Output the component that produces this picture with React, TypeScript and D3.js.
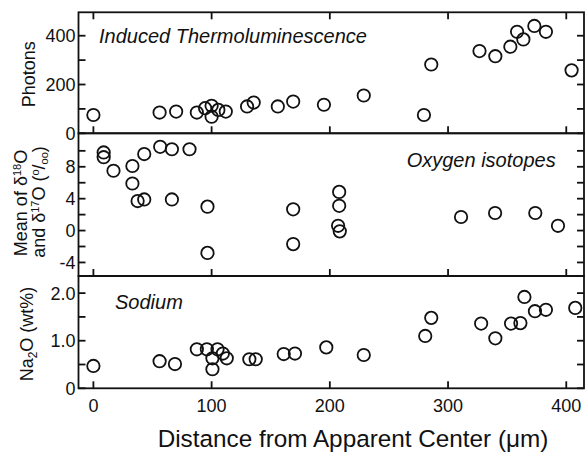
import React from 'react';
import * as d3 from 'd3';

// ---------- data ----------
const xTickValues = [0, 100, 200, 300, 400];

const tlDist = [0, 56, 70, 87.5, 94.5, 100, 100, 105.7, 112, 130, 135.6, 156, 169, 195, 228.7, 279.6, 285.8, 326.6, 340, 352.7, 358.4, 363.7, 373, 382.8, 404.5];
const tlPhotons = [75, 85, 89, 85, 103, 113, 68, 96, 89, 110, 126, 110, 130, 117, 155, 75, 282, 337, 316, 355, 416, 385, 440, 416, 258];
const tlTicks = [0, 100, 200, 300, 400];
const tlLabels = [0, 200, 400];

const oxDist = [8.7, 8.7, 17, 33, 33, 37.4, 43, 43, 56.5, 66.4, 81.3, 66.4, 96.5, 96.5, 169, 169, 207.9, 207.9, 207, 208.4, 311, 339.8, 373.8, 393];
const oxMean = [9.8, 9.2, 7.5, 8.1, 5.9, 3.7, 3.9, 9.6, 10.5, 10.2, 10.2, 3.9, 3.0, -2.8, 2.66, -1.7, 4.85, 3.1, 0.6, -0.1, 1.7, 2.2, 2.2, 0.6];
const oxTicks = [-4, -2, 0, 2, 4, 6, 8, 10];
const oxLabels = [-4, 0, 4, 8];

const naDist = [0, 56, 69, 87.5, 96, 105, 100.7, 100.7, 109.5, 112.8, 131.9, 137.3, 161, 170.5, 197, 228.7, 280.7, 285.8, 328, 340, 353.3, 361.2, 364.6, 373.5, 382.8, 407.6];
const naWt = [0.47, 0.57, 0.51, 0.82, 0.82, 0.82, 0.63, 0.40, 0.73, 0.63, 0.61, 0.61, 0.72, 0.73, 0.86, 0.70, 1.10, 1.48, 1.36, 1.05, 1.36, 1.37, 1.92, 1.62, 1.65, 1.69];
const naTicks = [0, 0.5, 1.0, 1.5, 2.0];
const naLabels = ['0', '1.0', '2.0'];
const naLabelVals = [0, 1.0, 2.0];

// ---------- layout ----------
const W = 586, H = 452;
const L = 78.5, R = 584;
const FONT = "Arial, 'Liberation Sans', Helvetica, sans-serif";
const SW = 1.8;
const TICK = 7;

const x = d3.scaleLinear().domain([-12.6, 415]).range([L, R]);
const yTop = d3.scaleLinear().domain([0, 496]).range([133.3, 12.3]);
const yMid = d3.scaleLinear().domain([-5.7, 12.2]).range([276, 133.3]);
const yBot = d3.scaleLinear().domain([0, 2.36]).range([388.3, 276]);

type Panel = {
  y: d3.ScaleLinear<number, number>;
  ticks: number[];
  labels: { v: number; t: string }[];
  xs: number[];
  ys: number[];
  topTicks: boolean;
};

const panels: Panel[] = [
  { y: yTop, ticks: tlTicks, labels: tlLabels.map(v => ({ v, t: String(v) })), xs: tlDist, ys: tlPhotons, topTicks: true },
  { y: yMid, ticks: oxTicks, labels: oxLabels.map(v => ({ v, t: String(v) })), xs: oxDist, ys: oxMean, topTicks: false },
  { y: yBot, ticks: naTicks, labels: naLabelVals.map((v, i) => ({ v, t: naLabels[i] })), xs: naDist, ys: naWt, topTicks: false },
];

function PanelG({ p }: { p: Panel }) {
  const [y0, y1] = p.y.range(); // bottom, top
  return (
    <g>
      {p.xs.map((d, i) => (
        <circle key={i} cx={x(d)} cy={p.y(p.ys[i])} r={6.2} fill="none" stroke="#111" strokeWidth={SW} />
      ))}
      {p.ticks.map(v => (
        <g key={v}>
          <line x1={L} x2={L + TICK} y1={p.y(v)} y2={p.y(v)} stroke="#111" strokeWidth={SW} />
          <line x1={R - TICK} x2={R} y1={p.y(v)} y2={p.y(v)} stroke="#111" strokeWidth={SW} />
        </g>
      ))}
      {xTickValues.map(v => (
        <line key={'b' + v} x1={x(v)} x2={x(v)} y1={y0} y2={y0 - TICK} stroke="#111" strokeWidth={SW} />
      ))}
      {p.topTicks && xTickValues.map(v => (
        <line key={'t' + v} x1={x(v)} x2={x(v)} y1={y1} y2={y1 + TICK} stroke="#111" strokeWidth={SW} />
      ))}
      {p.labels.map(l => (
        <text key={l.t} x={L - 3} y={p.y(l.v)} dy="0.36em" textAnchor="end" fontSize={18} fontFamily={FONT} fill="#111">{l.t}</text>
      ))}
      <rect x={L} y={y1} width={R - L} height={y0 - y1} fill="none" stroke="#111" strokeWidth={SW} />
    </g>
  );
}

export default function App() {
  return (
    <svg width={W} height={H} style={{ position: 'absolute', left: 0, top: 0, background: '#fff' }} fontFamily={FONT}>
      <rect width={W} height={H} fill="#fff" />
      {panels.map((p, i) => <PanelG key={i} p={p} />)}

      {xTickValues.map(v => (
        <text key={v} x={x(v)} y={411.7} textAnchor="middle" fontSize={18} fill="#111">{v}</text>
      ))}
      <text x={353} y={446.5} textAnchor="middle" fontSize={24.3} fill="#111">Distance from Apparent Center (μm)</text>

      <text x={99} y={43.3} fontSize={20} fontStyle="italic" fill="#111">Induced Thermoluminescence</text>
      <text x={406.7} y={166.5} fontSize={20} fontStyle="italic" fill="#111">Oxygen isotopes</text>
      <text x={115} y={309.3} fontSize={20} fontStyle="italic" fill="#111">Sodium</text>

      <text transform="translate(35,74.2) rotate(-90)" textAnchor="middle" fontSize={18} fill="#111">Photons</text>
      <text transform="translate(26.5,203) rotate(-90)" textAnchor="middle" fontSize={18} fill="#111">
        Mean of δ<tspan fontSize={11} dy={-6}>18</tspan><tspan dy={6}>O</tspan>
      </text>
      <text transform="translate(44.5,202) rotate(-90)" textAnchor="middle" fontSize={18} fill="#111">
        and δ<tspan fontSize={11} dy={-6}>17</tspan><tspan dy={6}>O (</tspan><tspan fontSize={11} dy={-6}>o</tspan><tspan dy={6}>/</tspan><tspan fontSize={11} dy={3}>oo</tspan><tspan dy={-3}>)</tspan>
      </text>
      <text transform="translate(33,334) rotate(-90)" textAnchor="middle" fontSize={18} fill="#111">
        Na<tspan fontSize={12} dy={4}>2</tspan><tspan dy={-4}>O (wt%)</tspan>
      </text>
    </svg>
  );
}
